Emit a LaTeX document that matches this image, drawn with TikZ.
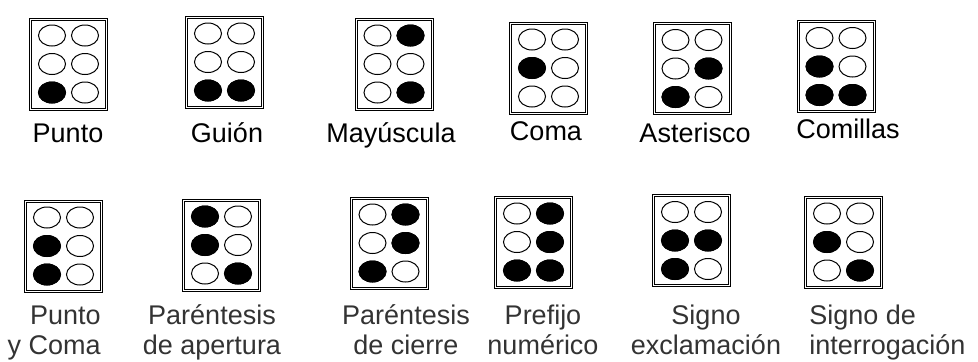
\documentclass[tikz,border=0pt]{standalone}
\usepackage{fontspec}
\setmainfont{Liberation Sans}
\usetikzlibrary{positioning}

\begin{document}
\begin{tikzpicture}[
  x=0.5pt, y=-0.5pt,
  cell/.style={draw, rectangle, line width=0.5pt, double=white, double distance=0.5pt,
    minimum width=38pt, minimum height=45pt, inner sep=0pt},
  hole/.style={draw, line width=0.5pt, fill=white},
  pin/.style={draw, line width=0.5pt, fill=black},
  lbl/.style={font=\fontsize{13.5}{15}\selectfont, inner sep=0pt},
  lbltwo/.style={lbl, text=black!80}
]
\useasboundingbox (0,0) rectangle (978,361);
% cells: name / x / y / raised dots (1-3 left column, 4-6 right column)
\foreach \name/\cx/\cy/\on in {
    punto/68.5/64/{3}, guion/224.5/62/{3,6}, mayus/394/64/{4,6},
    coma/548.5/68/{2}, aster/692/68.5/{3,5}, comillas/836/66.5/{2,3,6},
    puntocoma/63.5/246/{2,3}, parab/221.5/245/{1,2,6}, parcie/389/243/{3,4,5},
    prefijo/533.5/242/{3,4,5,6}, exclam/691.5/240.5/{2,3,5}, interrog/843.5/242/{2,6}} {
  \node[cell] (\name) at (\cx,\cy) {};
  \foreach \d/\dx/\dy in {1/-16.5/-28.5, 2/-16.5/0, 3/-16.5/28.5,
                          4/16.5/-28.5, 5/16.5/0, 6/16.5/28.5} {
    \coordinate (\name-\d) at ([shift={(\dx,\dy)}]\name.center);
    \draw[hole] (\name-\d) ellipse [x radius=6.75pt, y radius=5.25pt];
  }
  \foreach \d in \on
    \draw[pin] (\name-\d) ellipse [x radius=6.75pt, y radius=5.25pt];
}
% labels, first row
\node[lbl, anchor=base] (punto-l) at (68,142) {Punto};
\node[lbl, anchor=base] (guion-l) at (227,142) {Guión};
\node[lbl, anchor=base] (mayus-l) at (391,142) {Mayúscula};
\node[lbl, anchor=base] (coma-l) at (546,140) {Coma};
\node[lbl, anchor=base] (aster-l) at (695,142) {Asterisco};
\node[lbl, anchor=base] (comillas-l) at (848,138) {Comillas};
% labels, second row
\node[lbltwo, align=right, anchor=east] (puntocoma-l) at (101,333) {\strut Punto\\\strut y Coma};
\node[lbltwo, align=center] (parab-l) at (212,333) {\strut Paréntesis\\\strut de apertura};
\node[lbltwo, align=center] (parcie-l) at (406,333) {\strut Paréntesis\\\strut de cierre};
\node[lbltwo, align=center] (prefijo-l) at (543,333) {\strut Prefijo\\\strut numérico};
\node[lbltwo, align=center] (exclam-l) at (706,333) {\strut Signo\\\strut exclamación};
\node[lbltwo, align=left, anchor=west] (interrog-l) at (809,333) {\strut Signo de\\\strut interrogación};
\end{tikzpicture}
\end{document}
